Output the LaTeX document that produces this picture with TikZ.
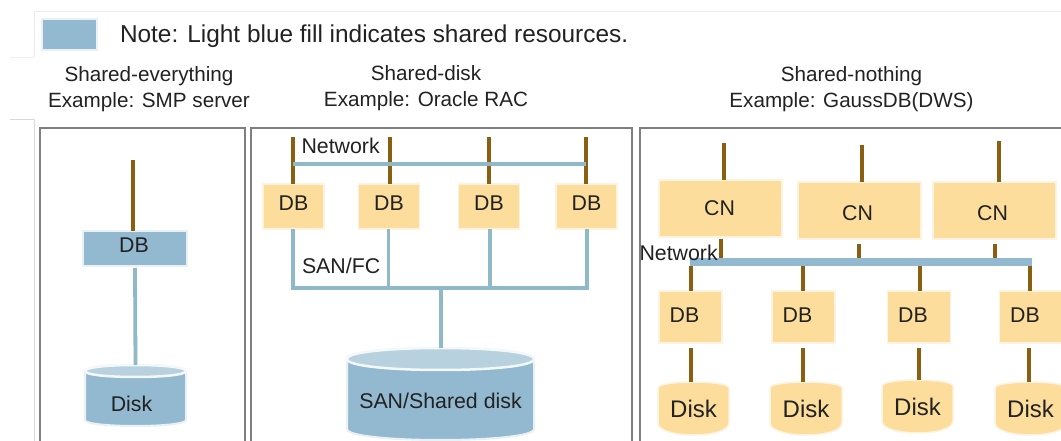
\documentclass[tikz,border=0pt]{standalone}
\usepackage{fontspec}
\setmainfont{Liberation Sans}
\newdimen\pxu \pxu=.75pt
\newcommand\txt[3]{\raisebox{#2\pxu}[0pt][0pt]{\makebox[0pt]{\kern#1\pxu\kern#1\pxu #3}}}
\definecolor{shared}{HTML}{92B9CF}
\definecolor{sharedtop}{HTML}{B7D1DF}
\definecolor{halo}{HTML}{EAF1F4}
\definecolor{wire}{HTML}{8FB8C8}
\definecolor{brown}{HTML}{8A5F12}
\definecolor{own}{HTML}{FDDD9B}
\definecolor{ownhalo}{HTML}{FDF3E0}
\definecolor{ink}{HTML}{222222}
\definecolor{frame}{HTML}{7F7F7F}
\definecolor{faint}{HTML}{D5D8DC}
\tikzset{
  panel/.style={draw=frame,line width=1.6\pxu},
  faintline/.style={draw=faint,line width=1\pxu},
  blueline/.style={draw=wire,line width=3.8\pxu},
  brownline/.style={draw=brown,line width=3.8\pxu},
  bar/.style={draw=shared,line width=8\pxu},
  anybox/.style={inner sep=0pt,outer sep=0pt,text=ink,font=\fontsize{16}{18}\selectfont},
  ownbox/.style={anybox,fill=own,draw=ownhalo,line width=1.5\pxu},
  bluebox/.style={anybox,fill=shared,draw=halo,line width=2\pxu},
  heading/.style={inner sep=0pt,align=center,text=ink,font=\fontsize{15.5}{19.4}\selectfont},
  disklabel/.style={anybox},
}
% name, xl, xr, ytop, ybot, ry, dx, dy, text
\newcommand\blueDisk[9]{%
  \pgfmathsetmacro\xm{(#2+#3)/2}\pgfmathsetmacro\ym{(#4+#5)/2}%
  \pgfmathsetmacro\dw{#3-#2}\pgfmathsetmacro\dh{#5-#4}%
  \pgfmathsetmacro\ya{#4+#6}\pgfmathsetmacro\yb{#5-#6}\pgfmathsetmacro\yc{#5+#6/3}%
  \pgfmathsetmacro\yd{#4-#6/3}\pgfmathsetmacro\ye{#4+2*#6+#6/3}%
  \path[fill=shared,draw=halo,line width=2\pxu] (#2,\ya) -- (#2,\yb) .. controls (#2,\yc) and (#3,\yc) .. (#3,\yb) -- (#3,\ya) .. controls (#3,\yd) and (#2,\yd) .. cycle;
  \path[fill=sharedtop,draw=white!85!sharedtop,line width=2.5\pxu] (#2,\ya) .. controls (#2,\yd) and (#3,\yd) .. (#3,\ya) .. controls (#3,\ye) and (#2,\ye) .. cycle;
  \node[disklabel,minimum width=\dw*\pxu,minimum height=\dh*\pxu] (#1) at (\xm,\ym) {\txt{#7}{#8}{#9}};%
}
% name, xl, xr, ytop, ybot, text
\newcommand\ownDisk[6]{%
  \pgfmathsetmacro\xm{(#2+#3)/2}\pgfmathsetmacro\ym{(#4+#5)/2}%
  \pgfmathsetmacro\dw{#3-#2}\pgfmathsetmacro\dh{#5-#4}%
  \pgfmathsetmacro\ya{#4+6}\pgfmathsetmacro\yb{#5-12}\pgfmathsetmacro\yc{#5+4}\pgfmathsetmacro\yd{#4-2}%
  \path[fill=own,draw=ownhalo,line width=1.5\pxu] (#2,\ya) -- (#2,\yb) .. controls (#2,\yc) and (#3,\yc) .. (#3,\yb) -- (#3,\ya) .. controls (#3,\yd) and (#2,\yd) .. cycle;
  \node[anybox,font=\fontsize{18}{20}\selectfont,minimum width=\dw*\pxu,minimum height=\dh*\pxu] (#1) at (\xm,\ym) {\txt{0}{-9}{#6}};%
}
\begin{document}
\begin{tikzpicture}[x=.75pt,y=-.75pt]
\useasboundingbox (0,0) rectangle (1061,441);
\clip (0,0) rectangle (1061,441);
\fill[white] (0,0) rectangle (1061,441);
% faint page rules
\draw[draw=faint!50,line width=1\pxu] (34,57) -- (34,12) -- (1061,12);
\draw[draw=faint!40,line width=.8\pxu] (10,57) -- (34,57);
\draw[faintline] (10,120) -- (34,120) -- (34,441);
% legend
\node[bluebox,minimum width=55\pxu,minimum height=31\pxu] (legend) at (69.5,34.5) {};
\node[anybox,anchor=west,font=\fontsize{18.3}{20}\selectfont] (note) at (120,36) {Note: Light blue fill indicates shared resources.};
% headings
\node[heading] (h1) at (149,89.5) {Shared-everything\\Example: SMP server};
\node[heading] (h2) at (426,88) {Shared-disk\\Example: Oracle RAC};
\node[heading] (h3) at (851.5,89.5) {Shared-nothing\\Example: GaussDB(DWS)};
% panels
\draw[panel] (40,445) -- (40,128) -- (245,128) -- (245,445);
\draw[panel] (251,445) -- (251,128) -- (632,128) -- (632,445);
\draw[panel] (640,445) -- (640,128) -- (1070,128);
% --- panel 1
\node[bluebox,minimum width=104\pxu,minimum height=35\pxu] (sdb) at (135,248.5) {\txt{-1}{-4}{DB}};
\blueDisk{sdisk}{85}{186}{365}{426}{6}{-4}{-16}{Disk}
\coordinate (stop) at (133,160);
\draw[brownline] (stop) -- (stop |- sdb.north);
\draw[blueline] ([yshift=-2\pxu]sdb.south) -- (sdisk.north);
% --- panel 2
\foreach \n/\c in {1/293.5,2/389,3/489,4/586.5}
  \node[ownbox,minimum width=61\pxu,minimum height=45\pxu] (d\n) at (\c,206.5) {\txt{0}{-4}{DB}};
\blueDisk{san}{347}{534}{348}{440}{11}{0}{-14.5}{SAN/Shared disk}
\foreach \n/\x in {1/293,2/390,3/489,4/586}{
  \coordinate (nt\n) at (\x,137);
  \draw[brownline] (nt\n) -- (nt\n |- d\n.north);
}
\coordinate (netr) at (586,164);
\coordinate (netl) at (293,164);
\draw[blueline] (netl) -- (netr);
\coordinate (bus) at (441,288);
\coordinate (busl) at (293,288);
\coordinate (busr) at (587,288);
\draw[blueline] (d1.south -| busl) |- (bus);
\draw[blueline] (d4.south -| busr) |- (bus);
\draw[blueline] ([xshift=-.5\pxu]d2.south) -- ([xshift=-.5\pxu]d2.south |- bus);
\draw[blueline] ([xshift=1\pxu]d3.south) -- ([xshift=1\pxu]d3.south |- bus);
\draw[blueline] (bus) -- (bus |- san.north);
\node[anybox,anchor=west] (netlabel) at (301.5,146) {Network};
\node[anybox,anchor=west] (sanlabel) at (302,266) {SAN/FC};
% --- panel 3
\node[ownbox,minimum width=123\pxu,minimum height=57\pxu] (c1) at (720.5,208.5) {\txt{-1}{-7}{CN}};
\node[ownbox,minimum width=123\pxu,minimum height=57\pxu] (c2) at (859.5,210.5) {\txt{-2}{-10}{CN}};
\node[ownbox,minimum width=123\pxu,minimum height=57\pxu] (c3) at (994.5,210.5) {\txt{-2}{-10}{CN}};
\foreach \n/\x/\a/\b/\c in {1/724/143/721/239,2/862/145/859/244,3/999/141/995/244}{
  \coordinate (ct\n) at (\x,\a);
  \coordinate (cb\n) at (\b,\c);
  \draw[brownline] (ct\n) -- (ct\n |- c\n.north);
}
\coordinate (barl) at (690,262);
\coordinate (barr) at (1032,262);
\foreach \n in {1,2,3}
  \draw[brownline] (cb\n) -- (cb\n |- barl);
\foreach \n/\c in {1/690.5,2/803.5,3/919,4/1031}
  \node[ownbox,minimum width=63\pxu,minimum height=52\pxu] (e\n) at (\c,317) {\txt{-6}{-5.5}{DB}};
\ownDisk{k1}{658}{729}{382}{435}{Disk}
\ownDisk{k2}{770}{842}{382}{435}{Disk}
\ownDisk{k3}{882}{953}{380}{433}{Disk}
\ownDisk{k4}{995}{1066}{382}{435}{Disk}
\foreach \n/\u/\w in {1/691/691,2/803/803,3/920/919,4/1030/1029}{
  \coordinate (eu\n) at (\u,266);
  \coordinate (el\n) at (\w,348);
  \draw[brownline] (eu\n) -- (eu\n |- e\n.north);
  \draw[brownline] (el\n) -- (el\n |- k\n.north);
}
\draw[bar] (barl) -- (barr);
\node[anybox,anchor=west] (netlabel3) at (639.5,252.5) {Network};
\end{tikzpicture}
\end{document}
